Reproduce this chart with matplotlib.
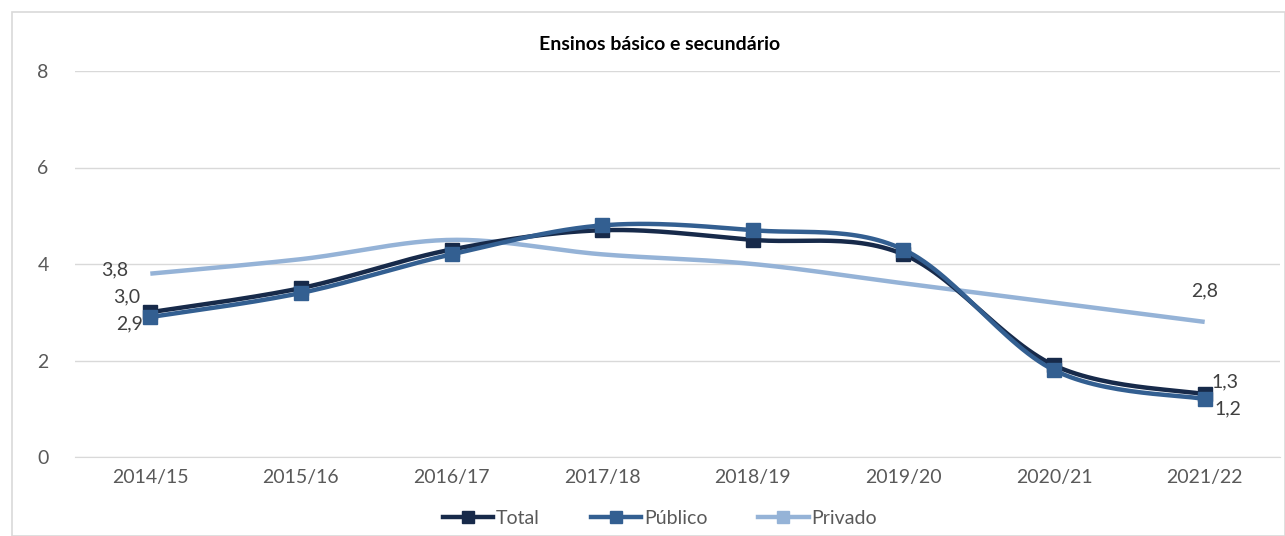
import numpy as np
import matplotlib.pyplot as plt
from matplotlib.lines import Line2D
from matplotlib.patches import Rectangle

plt.rcParams['font.family'] = ['Lato', 'DejaVu Sans']

anos = ["2014/15", "2015/16", "2016/17", "2017/18", "2018/19", "2019/20", "2020/21", "2021/22"]
total = [3.0, 3.5, 4.3, 4.7, 4.5, 4.2, 1.9, 1.3]
publico = [2.9, 3.4, 4.2, 4.8, 4.7, 4.3, 1.8, 1.2]
privado = [3.8, 4.1, 4.5, 4.2, 4.0, 3.6, 3.2, 2.8]

cor_total = "#172A4A"
cor_publico = "#335F91"
cor_privado = "#95B3D7"
cinza = "#595959"


def suave(y, n=30):
    # curva tipo "linha suavizada" do Excel (Bezier com pontos de controlo a 1/6)
    x = np.arange(len(y), dtype=float)
    y = np.asarray(y, dtype=float)
    xs, ys = [], []
    for i in range(len(y) - 1):
        p0 = np.array([x[max(i - 1, 0)], y[max(i - 1, 0)]])
        p1 = np.array([x[i], y[i]])
        p2 = np.array([x[i + 1], y[i + 1]])
        p3 = np.array([x[min(i + 2, len(y) - 1)], y[min(i + 2, len(y) - 1)]])
        c1 = p1 + (p2 - p0) / 6
        c2 = p2 - (p3 - p1) / 6
        t = np.linspace(0, 1, n)[:, None]
        pts = (1 - t) ** 3 * p1 + 3 * (1 - t) ** 2 * t * c1 + 3 * (1 - t) * t ** 2 * c2 + t ** 3 * p2
        xs.extend(pts[:, 0])
        ys.extend(pts[:, 1])
    return xs, ys


fig = plt.figure(figsize=(12.85, 5.36), dpi=100)
fig.patches.append(Rectangle((12 / 1285, 0), 1 - 12 / 1285, 1 - 12 / 536, transform=fig.transFigure,
                             fill=False, edgecolor="#D9D9D9", linewidth=1.2))
ax = fig.add_axes([75 / 1285, 1 - 457 / 536, 1205 / 1285, 386 / 536])

x = np.arange(len(anos))
xs, ys = suave(privado)
ax.plot(xs, ys, color=cor_privado, lw=3.2, solid_capstyle='butt', zorder=3)
xs, ys = suave(total)
ax.plot(xs, ys, color=cor_total, lw=3.2, zorder=4)
ax.plot(x, total, ls='none', marker='s', ms=10, color=cor_total, zorder=5)
xs, ys = suave(publico)
ax.plot(xs, ys, color=cor_publico, lw=3.2, zorder=6)
ax.plot(x, publico, ls='none', marker='s', ms=10, color=cor_publico, zorder=7)

ax.set_xlim(-0.5, len(anos) - 0.5)
ax.set_ylim(0, 8)
ax.set_yticks([0, 2, 4, 6, 8])
ax.set_xticks(x)
ax.set_xticklabels(anos)
ax.tick_params(length=0, labelsize=14, colors=cinza)
ax.tick_params(axis='y', pad=19)
ax.tick_params(axis='x', pad=9)
ax.grid(axis='y', color="#D9D9D9", lw=1)
ax.set_axisbelow(True)
for s in ax.spines.values():
    s.set_visible(False)
ax.spines['bottom'].set_visible(True)
ax.spines['bottom'].set_color("#D9D9D9")

def fmt(v):
    return f"{v:.1f}".replace(".", ",")

lab = dict(fontsize=14, color="#404040")
ax.annotate(fmt(privado[0]), (0, privado[0]), xytext=(-16, 3), textcoords='offset points', ha='right', va='center', **lab)
ax.annotate(fmt(total[0]), (0, total[0]), xytext=(-7, 11), textcoords='offset points', ha='right', va='center', **lab)
ax.annotate(fmt(publico[0]), (0, publico[0]), xytext=(-5, -5), textcoords='offset points', ha='right', va='center', **lab)
ax.annotate(fmt(privado[-1]), (7, privado[-1]), xytext=(0, 22), textcoords='offset points', ha='center', va='center', **lab)
ax.annotate(fmt(total[-1]), (7, total[-1]), xytext=(5, 9), textcoords='offset points', ha='left', va='center', **lab)
ax.annotate(fmt(publico[-1]), (7, publico[-1]), xytext=(7, -7), textcoords='offset points', ha='left', va='center', **lab)

fig.text(660 / 1285, 1 - 45 / 536, "Ensinos básico e secundário", ha='center', va='center',
         fontsize=14, fontweight='bold', color="#000000")

handles = [Line2D([], [], color=c, lw=3.2, marker='s', ms=8) for c in (cor_total, cor_publico, cor_privado)]
fig.legend(handles, ["Total", "Público", "Privado"], loc='center', bbox_to_anchor=(660 / 1285, 1 - 518 / 536),
           ncol=3, frameon=False, fontsize=14, labelcolor=cinza, handlelength=2.6, handletextpad=0.15,
           columnspacing=2.6)

fig.savefig("out.png", dpi=100)
